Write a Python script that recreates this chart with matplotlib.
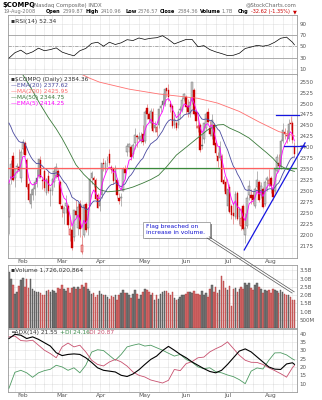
import numpy as np
import pandas as pd
import matplotlib
matplotlib.use("Agg")
from matplotlib import pyplot as plt
from matplotlib.lines import Line2D
from matplotlib.patches import Rectangle

plt.rcParams['font.family'] = 'DejaVu Sans'

W, H = 322, 400

# trading days shown on the chart
holidays = ["2008-02-18", "2008-03-21", "2008-05-26", "2008-07-04"]
dates = pd.bdate_range("2008-01-23", "2008-08-19")
dates = dates[~dates.isin(pd.to_datetime(holidays))]
days = np.arange(len(dates))

opens = [2240, 2330, 2380, 2330, 2355, 2355, 2330, 2395, 2410, 2370,
         2315, 2270, 2290, 2305, 2330, 2335, 2370, 2325, 2345, 2295,
         2335, 2300, 2300, 2320, 2335, 2345, 2320, 2265, 2250, 2265,
         2265, 2200, 2210, 2195, 2255, 2215, 2270, 2160, 2200, 2270,
         2215, 2265, 2330, 2330, 2325, 2290, 2265, 2290, 2365, 2350,
         2370, 2385, 2355, 2350, 2325, 2325, 2285, 2285, 2300, 2350,
         2390, 2400, 2400, 2385, 2410, 2425, 2420, 2415, 2430, 2415,
         2490, 2475, 2455, 2480, 2445, 2435, 2450, 2490, 2505, 2500,
         2535, 2530, 2500, 2495, 2450, 2455, 2450, 2485, 2485, 2510,
         2515, 2495, 2475, 2505, 2530, 2480, 2445, 2450, 2405, 2420,
         2445, 2480, 2445, 2425, 2450, 2410, 2380, 2375, 2380, 2325,
         2320, 2265, 2310, 2265, 2250, 2240, 2295, 2240, 2220, 2265,
         2200, 2220, 2290, 2290, 2290, 2265, 2310, 2320, 2290, 2305,
         2270, 2325, 2315, 2330, 2305, 2300, 2345, 2365, 2355, 2415,
         2435, 2425, 2420, 2455, 2455, 2399.87]
highs = [2320, 2370, 2390, 2350, 2365, 2395, 2395, 2420, 2415, 2375,
         2320, 2305, 2310, 2325, 2350, 2375, 2380, 2330, 2350, 2330,
         2345, 2310, 2330, 2355, 2365, 2350, 2325, 2270, 2265, 2290,
         2270, 2235, 2220, 2256, 2280, 2275, 2280, 2200, 2270, 2275,
         2260, 2330, 2345, 2335, 2330, 2295, 2290, 2365, 2375, 2370,
         2380, 2395, 2360, 2355, 2360, 2330, 2295, 2295, 2355, 2360,
         2410, 2410, 2405, 2410, 2445, 2430, 2435, 2435, 2450, 2485,
         2500, 2480, 2490, 2490, 2460, 2450, 2490, 2500, 2525, 2535,
         2535, 2545, 2505, 2500, 2475, 2460, 2485, 2495, 2515, 2525,
         2520, 2510, 2515, 2550, 2535, 2485, 2470, 2455, 2430, 2455,
         2480, 2490, 2460, 2475, 2455, 2415, 2390, 2415, 2385, 2335,
         2330, 2305, 2315, 2270, 2275, 2300, 2300, 2262, 2260, 2270,
         2250, 2290, 2325, 2305, 2300, 2310, 2345, 2325, 2320, 2310,
         2325, 2335, 2350, 2335, 2315, 2350, 2385, 2385, 2420, 2455,
         2445, 2440, 2465, 2472, 2460, 2410.96]
lows = [2202, 2315, 2323, 2310, 2340, 2345, 2320, 2385, 2380, 2305,
        2275, 2260, 2280, 2290, 2310, 2330, 2330, 2305, 2300, 2290,
        2295, 2265, 2290, 2310, 2330, 2325, 2265, 2240, 2225, 2250,
        2215, 2185, 2165, 2185, 2240, 2200, 2195, 2155, 2195, 2205,
        2200, 2265, 2315, 2310, 2280, 2260, 2255, 2285, 2345, 2340,
        2355, 2360, 2340, 2315, 2320, 2285, 2270, 2265, 2300, 2330,
        2380, 2390, 2370, 2375, 2395, 2400, 2415, 2410, 2405, 2410,
        2465, 2460, 2445, 2435, 2435, 2425, 2445, 2480, 2495, 2495,
        2515, 2505, 2480, 2445, 2445, 2440, 2445, 2465, 2480, 2505,
        2475, 2470, 2470, 2500, 2474, 2445, 2435, 2390, 2395, 2410,
        2440, 2455, 2425, 2420, 2405, 2380, 2355, 2370, 2320, 2300,
        2290, 2255, 2250, 2235, 2225, 2235, 2234, 2225, 2210, 2210,
        2182, 2215, 2280, 2270, 2270, 2260, 2305, 2275, 2285, 2260,
        2265, 2300, 2310, 2295, 2280, 2295, 2340, 2350, 2350, 2410,
        2420, 2410, 2415, 2440, 2410, 2376.57]
closes = [2316, 2361, 2326, 2350, 2358, 2349, 2390, 2413, 2383, 2310,
          2279, 2293, 2305, 2320, 2320, 2374, 2333, 2322, 2306, 2327,
          2300, 2303, 2327, 2345, 2354, 2332, 2271, 2259, 2260, 2273,
          2221, 2212, 2169, 2256, 2244, 2264, 2212, 2177, 2268, 2210,
          2258, 2327, 2341, 2324, 2281, 2261, 2279, 2363, 2361, 2363,
          2371, 2365, 2349, 2322, 2352, 2290, 2276, 2286, 2350, 2342,
          2403, 2408, 2377, 2405, 2429, 2423, 2424, 2426, 2413, 2480,
          2477, 2464, 2483, 2438, 2451, 2446, 2488, 2495, 2497, 2534,
          2529, 2516, 2492, 2448, 2465, 2445, 2481, 2487, 2508, 2523,
          2492, 2481, 2503, 2550, 2475, 2459, 2449, 2394, 2404, 2455,
          2475, 2458, 2430, 2462, 2406, 2386, 2368, 2401, 2321, 2316,
          2293, 2305, 2251, 2245, 2243, 2294, 2235, 2258, 2239, 2213,
          2216, 2285, 2312, 2283, 2280, 2304, 2326, 2280, 2311, 2264,
          2320, 2330, 2326, 2311, 2286, 2350, 2378, 2356, 2414, 2440,
          2431, 2429, 2454, 2453, 2417, 2384.36]
# volume in billions of shares
volumes = [3.4, 3.0, 2.6, 2.08, 2.2, 2.55, 2.9, 3.04, 2.5, 2.96,
           2.4, 2.96, 2.34, 2.22, 2.18, 2.2, 2.14, 2.02, 1.98, 2.22,
           2.28, 2.2, 2.28, 2.22, 2.14, 2.43, 2.34, 2.63, 2.34, 2.22,
           2.43, 2.14, 2.43, 2.49, 2.39, 2.49, 2.34, 2.63, 2.49, 2.7,
           2.39, 2.22, 2.08, 2.14, 1.87, 2.02, 2.22, 2.08, 2.02, 1.98,
           1.87, 1.77, 1.94, 1.87, 1.98, 1.67, 2.02, 2.14, 2.3, 2.14,
           2.1, 2.02, 1.81, 2.08, 2.28, 2.08, 1.77, 1.98, 2.18, 2.34,
           2.28, 2.18, 2.02, 2.14, 1.67, 1.98, 1.77, 2.08, 2.18, 2.22,
           2.22, 2.14, 2.02, 2.18, 1.81, 1.67, 1.73, 1.87, 1.98, 2.02,
           2.08, 2.18, 2.18, 2.14, 2.22, 2.08, 2.08, 2.02, 2.22, 2.02,
           2.14, 1.87, 2.34, 2.63, 2.18, 2.49, 2.14, 2.28, 3.16, 2.83,
           2.43, 2.3, 2.55, 1.36, 2.39, 2.43, 2.18, 2.39, 2.49, 2.39,
           2.75, 2.63, 2.7, 2.43, 2.28, 2.63, 2.75, 2.49, 2.39, 2.14,
           2.28, 2.22, 2.28, 2.14, 2.34, 2.28, 2.22, 2.14, 2.28, 2.18,
           2.08, 2.02, 1.98, 1.87, 1.67, 1.726]

# moving averages (day index, value)
ma200_days = [0, 15, 30, 41, 46, 61, 76, 96, 106, 117, 127, 137, 145]
ma200_vals = [2640, 2610, 2582, 2558, 2549, 2533, 2522, 2512, 2501, 2482, 2458, 2436, 2425.95]
ma50_days = [0, 5, 10, 15, 17, 20, 24, 27, 30, 34, 38, 41, 46, 50, 55, 60, 63, 68,
             72, 76, 80, 85, 90, 96, 101, 106, 109, 112, 117, 122, 127, 131, 134, 137, 141, 145]
ma50_vals = [2620, 2580, 2545, 2505, 2490, 2468, 2442, 2420, 2395, 2360, 2338, 2325, 2303, 2298,
             2300, 2305, 2309, 2318, 2326, 2336, 2355, 2382, 2400, 2422, 2440, 2451, 2452, 2444,
             2434, 2421, 2402, 2387, 2375, 2360, 2350, 2344.75]
ema20_seed = 2470
ema5_seed = 2320

# indicator panels every third session
ind_days = list(range(0, 145, 3)) + [145]
rsi_vals = [29, 38.5, 43, 36, 40, 46.5, 42, 44, 47, 39.5, 36, 33, 42, 46, 55, 57, 50, 57, 53, 56,
            61.5, 60, 64.5, 62, 64, 65, 68.5, 62, 54, 58, 62, 62, 49, 51, 44, 40, 37, 33.5, 34, 37.5,
            46, 48.5, 51.5, 50, 52, 57, 64, 66, 57, 52.34]
adx_vals = [37, 39.5, 39, 37, 38, 36.5, 34.5, 32.5, 28.5, 26.8, 27.5, 27.8, 27.5, 25.5, 22.7, 19.5,
            18, 17.5, 17, 15, 14.3, 15.8, 18.3, 21.5, 24.5, 26.5, 29.8, 32.3, 30, 27.5, 25.5, 23, 21,
            19, 17.3, 16.5, 18, 21.5, 25.5, 29.5, 30.8, 29, 26, 23, 20, 18.7, 18.5, 21.8, 22.5, 21.55]
pdi_vals = [7.3, 16.8, 18, 16.5, 13.8, 16.5, 17.8, 18.6, 21, 20, 18, 19.5, 16.5, 21, 28.9, 30.3,
            29.8, 26.9, 24, 27.5, 32, 33, 33.8, 32.5, 33, 31.5, 30, 28.2, 26.5, 27.5, 24.5, 22.8, 20,
            19, 19.5, 17.2, 16.5, 15.2, 14.2, 12.4, 10, 17.5, 19.4, 18.8, 24, 28.4, 28.5, 27.2, 24.8, 24.16]
mdi_vals = [38, 38.5, 35.8, 35.5, 36, 33, 30, 28, 25.5, 32, 34.3, 32, 33, 29, 24, 21.5, 20.6, 23,
            24.5, 23, 20.5, 17, 15, 14, 12.2, 11.3, 10.4, 12, 18.5, 17.8, 22, 23.2, 25.5, 25.9, 29,
            30.9, 32.5, 35, 31, 27, 24, 22.8, 22.7, 21.5, 19.5, 17.8, 16, 13.9, 19.6, 20.87]

# hand-drawn annotation lines on the price panel
support_level = 2352
support_red = [(-0.5, 60.3), (106.8, 134.7)]
support_green = [(60.3, 106.8), (134.7, 146.3)]
flag_top = (2473, 135.8, 147.3)
flag_bottom = (2404, 139.7, 150.4)
trend_line = ((119.5, 2165), (150.4, 2410))

month_lbl = ['Feb', 'Mar', 'Apr', 'May', 'Jun', 'Jul', 'Aug']
month_idx = [int(np.where(dates.month == m)[0][0]) for m in range(2, 9)]
week_idx = [i for i in range(1, len(dates)) if dates[i].weekday() < dates[i - 1].weekday()]

o, h, l, c = map(np.array, (opens, highs, lows, closes))
ema20 = pd.Series([ema20_seed] + closes).ewm(span=20, adjust=False).mean().values[1:]
ema5 = pd.Series([ema5_seed] + closes).ewm(span=5, adjust=False).mean().values[1:]

fig = plt.figure(figsize=(W / 100, H / 100), dpi=100)


def fx(px):
    return px / W


def fy(py):
    return 1 - py / H


def panel(top, bottom):
    return fig.add_axes([fx(8), fy(bottom), fx(297) - fx(8), (bottom - top) / H])


grid_c = '#c4c4c4'
tick_c = '#555555'


def style(ax, yticks, ylabels, ylim, months):
    ax.set_xlim(-0.5, 146.3)
    ax.set_ylim(*ylim)
    for s in ax.spines.values():
        s.set_color('#9a9a9a')
        s.set_linewidth(0.6)
    ax.yaxis.tick_right()
    ax.set_yticks(yticks)
    ax.set_yticklabels(ylabels)
    ax.tick_params(axis='y', length=0, pad=2, labelsize=4, labelcolor=tick_c)
    ax.set_xticks(month_idx)
    ax.set_xticklabels(month_lbl if months else [])
    ax.tick_params(axis='x', length=0, pad=1.2, labelsize=4.3, labelcolor=tick_c)
    for w in week_idx:
        ax.axvline(w, color=grid_c, lw=0.4, ls=(0, (1, 1)), zorder=0)
    for t in yticks:
        ax.axhline(t, color=grid_c, lw=0.4, ls=(0, (1, 1)), zorder=0)


# RSI panel
ax_rsi = panel(14.5, 74.5)
style(ax_rsi, [10, 30, 50, 70, 90], ['10', '30', '50', '70', '90'], (0, 106), False)
ax_rsi.axhline(70, color='#a0a0a0', lw=0.6, zorder=1)
ax_rsi.axhline(30, color='#a0a0a0', lw=0.6, zorder=1)
ax_rsi.axhline(50, color='#a0a0a0', lw=0.6, ls=(0, (4, 1.5, 1, 1.5)), zorder=1)
ax_rsi.plot(ind_days, rsi_vals, color='black', lw=0.5, zorder=3)
ax_rsi.text(0.012, 0.93, '\u25aaRSI(14) 52.34', transform=ax_rsi.transAxes, fontsize=4.3,
            color='#333333', va='top')

# price panel
ax_p = panel(74.5, 257.5)
pticks = list(range(2175, 2551, 25))
style(ax_p, pticks, [str(t) for t in pticks], (2147.7, 2566.5), True)
prev = np.r_[c[0], c[:-1]]
down = c < prev
wick_col = np.where(down, '#e07878', '#9a9a9a')
ax_p.vlines(days, l, h, colors=wick_col, lw=0.5, zorder=2)
edge_col = np.where(down, '#cc0000', '#6a6a6a')
face_col = [e if cc < oo else ('#f2b0b0' if d else '#c8c8c8')
            for e, cc, oo, d in zip(edge_col, c, o, down)]
ax_p.bar(days, np.maximum(np.abs(c - o), 1.5), bottom=np.minimum(o, c), width=0.8,
         color=face_col, edgecolor=edge_col, lw=0.3, zorder=2)
ax_p.plot(ma200_days, ma200_vals, color='#ff7070', lw=0.6, zorder=3)
ax_p.plot(ma50_days, ma50_vals, color='#3a7a3a', lw=0.6, zorder=3)
ax_p.plot(days, ema20, color='#4a4aa0', lw=0.6, zorder=3)
ax_p.plot(days, ema5, color='#ff00ff', lw=0.6, zorder=3)
for a, b in support_red:
    ax_p.plot([a, b], [support_level, support_level], color='#ff6060', lw=0.9, zorder=4)
for a, b in support_green:
    ax_p.plot([a, b], [support_level, support_level], color='#3a8a3a', lw=0.9, zorder=4)
for lvl, a, b in (flag_top, flag_bottom):
    ax_p.plot([a, b], [lvl, lvl], color='#1515e0', lw=0.9, zorder=5, clip_on=False)
ax_p.plot([trend_line[0][0], trend_line[1][0]], [trend_line[0][1], trend_line[1][1]],
          color='#1515e0', lw=0.9, zorder=5, clip_on=False)

legend_items = [('\u25aa$COMPQ (Daily) 2384.36', '#333333'),
                ('\u2014EMA(20) 2377.62', '#4a4aa0'),
                ('\u2014MA(200) 2425.95', '#ff6a6a'),
                ('\u2014MA(50) 2344.75', '#3a7a3a'),
                ('\u2014EMA(5) 2414.25', '#ff00ff')]
for k, (txt, col) in enumerate(legend_items):
    ax_p.text(0.012, 0.985 - k * 0.033, txt, transform=ax_p.transAxes, fontsize=4.2,
              color=col, va='top', zorder=6)

# volume panel
ax_v = panel(265, 328)
vt = [0.5, 1.0, 1.5, 2.0, 2.5, 3.0, 3.5]
style(ax_v, vt, ['500M', '1.0B', '1.5B', '2.0B', '2.5B', '3.0B', '3.5B'], (0, 3.82), False)
vface = np.where(down, '#d46a6a', '#7a7a7a')
vedge = np.where(down, '#b03a3a', '#444444')
ax_v.bar(days, volumes, width=0.8, color=vface, edgecolor=vedge, lw=0.3, zorder=2)
ax_v.text(0.012, 0.96, '\u25aaVolume 1,726,020,864', transform=ax_v.transAxes, fontsize=4.3,
          color='#333333', va='top')

# ADX panel
ax_adx = panel(329, 391.7)
at = [10, 15, 20, 25, 30, 35, 40]
style(ax_adx, at, [str(t) for t in at], (5.2, 42.7), True)
ax_adx.plot(ind_days, pdi_vals, color='#4e9a62', lw=0.6, zorder=3)
ax_adx.plot(ind_days, mdi_vals, color='#c8506e', lw=0.6, zorder=3)
ax_adx.plot(ind_days, adx_vals, color='black', lw=0.8, zorder=4)
ax_adx.text(0.012, 0.985, '\u2550ADX(14) 21.55', transform=ax_adx.transAxes, fontsize=4.2,
            color='#333333', va='top', zorder=6)
ax_adx.text(0.18, 0.985, '+DI 24.16', transform=ax_adx.transAxes, fontsize=4.2,
            color='#3a8a4a', va='top', zorder=6)
ax_adx.text(0.275, 0.985, '-DI 20.87', transform=ax_adx.transAxes, fontsize=4.2,
            color='#c8506e', va='top', zorder=6)

# header
fig.text(fx(2), fy(5), '$COMPQ', fontsize=4.9, fontweight='bold', va='center')
fig.text(fx(32), fy(5), '(Nasdaq Composite) INDX', fontsize=3.9, color='#666666', va='center')
fig.text(fx(297), fy(5), '@StockCharts.com', fontsize=3.9, color='#666666', va='center', ha='right')
header = [(4, '19-Aug-2008', '#777777', 'normal'),
          (46, 'Open', 'black', 'bold'), (63, '2399.87', '#777777', 'normal'),
          (86, 'High', 'black', 'bold'), (101, '2410.96', '#777777', 'normal'),
          (125, 'Low', 'black', 'bold'), (138, '2376.57', '#777777', 'normal'),
          (160, 'Close', 'black', 'bold'), (178, '2384.36', '#777777', 'normal'),
          (200, 'Volume', 'black', 'bold'), (222, '1.7B', '#777777', 'normal'),
          (238, 'Chg', 'black', 'bold'), (251, '-32.62 (-1.35%)', '#cc0000', 'normal'),
          (292.5, '\u25bc', '#cc0000', 'normal')]
for px, txt, col, wt in header:
    fig.text(fx(px), fy(11.5), txt, fontsize=3.6, color=col, fontweight=wt, va='center')

# callout box
fig.add_artist(Rectangle((fx(144.5), fy(239)), fx(67), 15.5 / H, transform=fig.transFigure,
                         facecolor='#888888', edgecolor='none', zorder=7))
fig.add_artist(Rectangle((fx(143), fy(237.5)), fx(67), 15.5 / H, transform=fig.transFigure,
                         facecolor='white', edgecolor='#888888', lw=0.5, zorder=8))
fig.text(fx(146), fy(229.8), 'Flag breached on\nincrease in volume.', fontsize=4.3,
         color='#1010d0', va='center', linespacing=1.25, zorder=9)
for dx, dy in ((0, 0), (2.2, -1.2)):
    fig.add_artist(Line2D([fx(207 + dx), fx(292 + dx)], [fy(238 + dy), fy(293 + dy)],
                          transform=fig.transFigure, color='#555555', lw=0.5, zorder=9))

fig.savefig('out.png', dpi=100)
